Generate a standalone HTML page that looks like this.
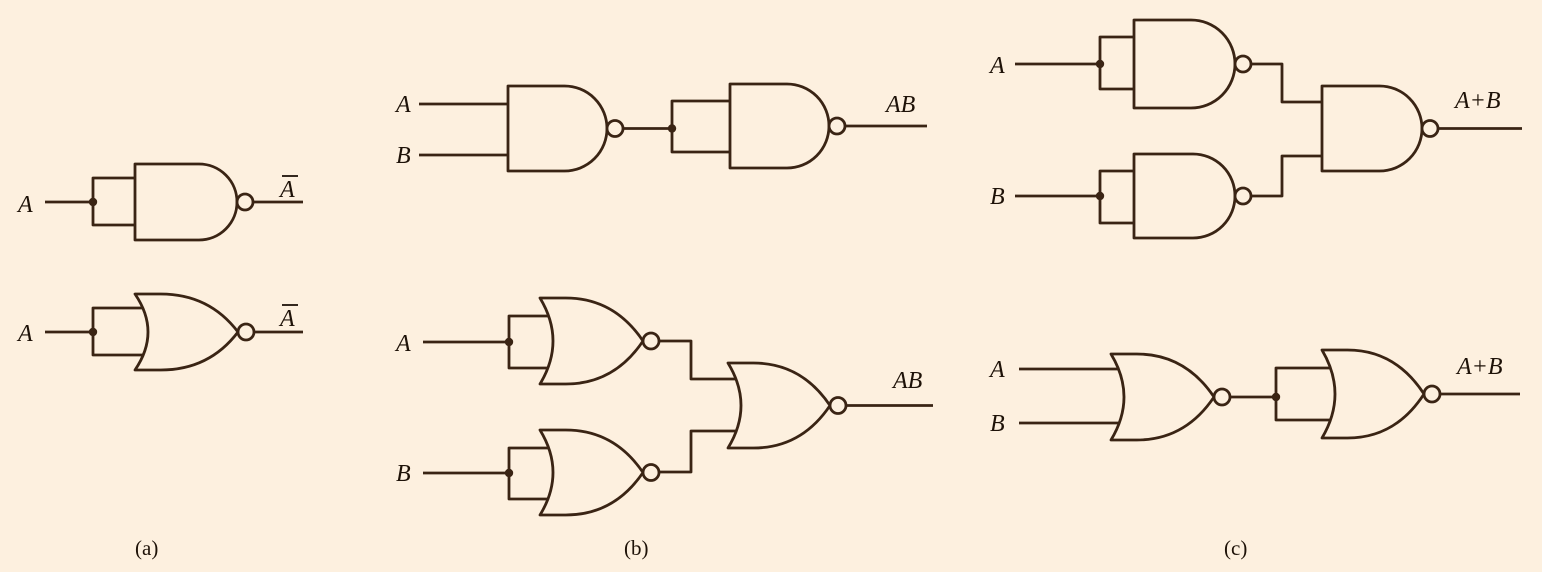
<!DOCTYPE html>
<html><head><meta charset="utf-8"><style>
html,body{margin:0;padding:0;background:#fdf0df;}
svg{display:block;}
text{font-family:"Liberation Serif",serif;fill:#1e1208;}
.lab{font-style:italic;font-size:24px;}
.cap{font-size:21px;}
</style></head><body>
<svg id="s" width="1542" height="572" viewBox="0 0 1542 572">
<rect width="1542" height="572" fill="#fdf0df"/>
<g id="g" fill="none" stroke="#3a2414" stroke-width="2.8" stroke-linejoin="round"></g>
<g>
<text class="lab" x="18" y="212">A</text>
<text class="lab" x="280" y="197">A</text>
<line x1="282" y1="176" x2="298" y2="176" stroke="#1e1208" stroke-width="1.8"/>
<text class="lab" x="18" y="341">A</text>
<text class="lab" x="280" y="326">A</text>
<line x1="282" y1="305" x2="298" y2="305" stroke="#1e1208" stroke-width="1.8"/>
<text class="lab" x="396" y="112">A</text>
<text class="lab" x="396" y="163">B</text>
<text class="lab" x="886" y="112">AB</text>
<text class="lab" x="396" y="351">A</text>
<text class="lab" x="396" y="481">B</text>
<text class="lab" x="893" y="388">AB</text>
<text class="lab" x="990" y="73">A</text>
<text class="lab" x="990" y="204">B</text>
<text class="lab" x="1455" y="108">A+B</text>
<text class="lab" x="990" y="377">A</text>
<text class="lab" x="990" y="431">B</text>
<text class="lab" x="1457" y="374">A+B</text>
<text class="cap" x="135" y="555">(a)</text>
<text class="cap" x="624" y="555">(b)</text>
<text class="cap" x="1224" y="555">(c)</text>
</g>
</svg>
<script>
const NS='http://www.w3.org/2000/svg';
const G=document.getElementById('g');
function add(tag,attrs,name){
  const el=document.createElementNS(NS,tag);
  for(const k in attrs) el.setAttribute(k,attrs[k]);
  
  
  G.appendChild(el);return el;
}
function wire(pts,name){add('polyline',{points:pts.map(p=>p.join(',')).join(' ')},name);}
function dot(x,y,name){add('circle',{cx:x,cy:y,r:4.2,fill:'#3a2414',stroke:'none'},name);}
function bubble(x,y,name){add('circle',{cx:x,cy:y,r:8,fill:'#fdf0df'},name);}
function nand(x,t,b,tip,name){
  const r=(b-t)/2,cy=(t+b)/2,s=tip-r;
  add('path',{d:`M${x},${t} L${s},${t} A${r},${r} 0 0 1 ${s},${b} L${x},${b} Z`},name);
  bubble(tip+8,cy,name+'-bubble');
  return {cy,out:tip+16};
}
const BUL=13;
function backX(x,t,b,y){const u=(y-t)/(b-t);return x+4*BUL*u*(1-u);}
function nor(x,t,b,tip,name){
  const cy=(t+b)/2,L=tip-x;
  add('path',{d:`M${x},${t} L${x+L*0.25},${t} Q${x+L*0.72},${t} ${tip},${cy} Q${x+L*0.72},${b} ${x+L*0.25},${b} L${x},${b} Q${x+2*BUL},${cy} ${x},${t} Z`},name);
  bubble(tip+8,cy,name+'-bubble');
  return {cy,out:tip+16};
}
// (a)
let a1=nand(135,164,240,237,'a-nand-gate');
wire([[45,202],[93,202]],'a-nand-input-wire');
wire([[135,178],[93,178],[93,225],[135,225]],'a-nand-tie-wire');dot(93,202,'a-nand-junction');
wire([[a1.out,202],[303,202]],'a-nand-output-wire');
let a2=nor(135,294,370,238,'a-nor-gate');
wire([[45,332],[93,332]],'a-nor-input-wire');
wire([[backX(135,294,370,308),308],[93,308],[93,355],[backX(135,294,370,355),355]],'a-nor-tie-wire');dot(93,332,'a-nor-junction');
wire([[a2.out,332],[303,332]],'a-nor-output-wire');
// (b) top
let b1=nand(508,86,171,607,'b-nand-gate-1');
wire([[419,104],[508,104]],'b-nand-input-a');wire([[419,155],[508,155]],'b-nand-input-b');
wire([[b1.out,128.5],[672,128.5]],'b-nand-link');dot(672,128.5,'b-nand-junction');
let b2=nand(730,84,168,829,'b-nand-gate-2');
wire([[730,101],[672,101],[672,152],[730,152]],'b-nand-tie-wire');
wire([[b2.out,126],[927,126]],'b-nand-output');
// (b) bottom
let n1=nor(540,298,384,643,'b-nor-gate-1');
wire([[423,342],[509,342]],'b-nor-input-a');dot(509,342,'b-nor-junction-a');
wire([[backX(540,298,384,316),316],[509,316],[509,368],[backX(540,298,384,368),368]],'b-nor-tie-a');
let n2=nor(540,430,515,643,'b-nor-gate-2');
wire([[423,473],[509,473]],'b-nor-input-b');dot(509,473,'b-nor-junction-b');
wire([[backX(540,430,515,448),448],[509,448],[509,499],[backX(540,430,515,499),499]],'b-nor-tie-b');
let n3=nor(728,363,448,830,'b-nor-gate-3');
wire([[n1.out,341],[691,341],[691,379],[backX(728,363,448,379),379]],'b-nor-link-1');
wire([[n2.out,472],[691,472],[691,431],[backX(728,363,448,431),431]],'b-nor-link-2');
wire([[n3.out,405.5],[933,405.5]],'b-nor-output');
// (c) top
let c1=nand(1134,20,108,1235,'c-nand-gate-1');
wire([[1015,64],[1100,64]],'c-nand-input-a');dot(1100,64,'c-nand-junction-a');
wire([[1134,37],[1100,37],[1100,89],[1134,89]],'c-nand-tie-a');
let c2=nand(1134,154,238,1235,'c-nand-gate-2');
wire([[1015,196],[1100,196]],'c-nand-input-b');dot(1100,196,'c-nand-junction-b');
wire([[1134,171],[1100,171],[1100,223],[1134,223]],'c-nand-tie-b');
let c3=nand(1322,86,171,1422,'c-nand-gate-3');
wire([[c1.out,64],[1282,64],[1282,102],[1322,102]],'c-nand-link-1');
wire([[c2.out,196],[1282,196],[1282,156],[1322,156]],'c-nand-link-2');
wire([[c3.out,128.5],[1522,128.5]],'c-nand-output');
// (c) bottom
let d1=nor(1111,354,440,1214,'c-nor-gate-1');
wire([[1019,369],[backX(1111,354,440,369),369]],'c-nor-input-a');
wire([[1019,423],[backX(1111,354,440,423),423]],'c-nor-input-b');
wire([[d1.out,397],[1276,397]],'c-nor-link');dot(1276,397,'c-nor-junction');
let d2=nor(1322,350,438,1424,'c-nor-gate-2');
wire([[backX(1322,350,438,368),368],[1276,368],[1276,420],[backX(1322,350,438,420),420]],'c-nor-tie');
wire([[d2.out,394],[1520,394]],'c-nor-output');
</script>
</body></html>
